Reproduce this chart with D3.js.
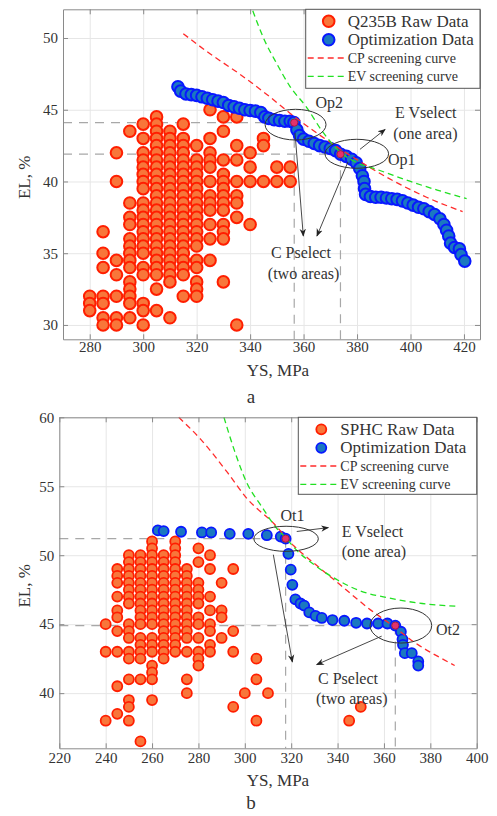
<!DOCTYPE html>
<html>
<head>
<meta charset="utf-8">
<script src="https://cdn.jsdelivr.net/npm/d3@7"></script>
<style>
  body { margin: 0; background: #fff; }
  svg text { font-family: "Liberation Serif", "Tinos", "DejaVu Serif", "Noto Serif", serif; fill: #333; }
</style>
</head>
<body>
<div id="chart"></div>
<script>
// ---------- panel a : Q235B ----------
var q235YS = [280, 285, 290, 295, 300, 305, 310, 315, 320, 325, 330, 335, 340, 345, 350, 355];
var q235EL = [
  [32, 31.5, 31],
  [36.5, 35, 34, 32, 31.5, 30.5, 30],
  [42, 40, 34.5, 33.5, 32, 30.5, 30],
  [43.5, 38.5, 37.5, 37, 36, 35.5, 35, 34.5, 34, 33, 32.5, 32, 31.5, 30.5],
  [44, 43, 42, 41.5, 41, 40.5, 40, 39.5, 38.5, 38, 37.5, 37, 36.5, 36, 35.5, 35, 34, 33.5, 31.5, 31, 30],
  [44.5, 44, 43.5, 43, 42.5, 42, 41.5, 41, 40.5, 40, 39.5, 39, 38.5, 38, 37.5, 37, 36.5, 36, 35.5, 35, 34.5, 34, 33.5, 32.5, 31],
  [43.5, 43, 42.5, 42, 41.5, 41, 40.5, 40, 39.5, 39, 38.5, 38, 37.5, 37, 36.5, 36, 35.5, 35, 34.5, 34, 33.5, 33, 30.5],
  [44, 43, 42.5, 42, 41.5, 41, 40.5, 40, 39.5, 39, 38.5, 38, 37.5, 37, 36.5, 36, 35.5, 35, 34.5, 34, 33.5, 32],
  [42.5, 41.5, 41, 40.5, 40, 39.5, 39, 38.5, 38, 37.5, 37, 36.5, 36, 35.5, 34.5, 34, 33, 32.5, 32],
  [45, 43, 42, 41.5, 41, 40, 39, 38.5, 38, 37, 36, 34.5],
  [44.5, 43.5, 41.5, 40.5, 40, 39.5, 39, 38.5, 38, 37, 36.5, 36, 33],
  [44.5, 42.5, 41.5, 40, 39, 38.5, 37.5, 30],
  [42, 41, 40, 37],
  [43, 42.5, 40],
  [41, 40],
  [41, 40]
];
var q235OptYS = [313, 314, 316, 318, 320, 322, 324, 326, 328, 330, 332, 334, 336, 338, 340, 342, 344, 345.5, 347, 349, 351, 353, 355, 356.4,
  357.5, 358.5, 360, 362, 364, 366, 368, 370, 372, 373.9, 376, 378, 379.7, 381, 382, 382.6, 382.8, 383.2, 385, 387, 389, 391, 393, 395,
  397, 399, 401, 403, 405, 407, 409, 411, 412.5, 413.5, 414.3, 415, 416.5, 418.3, 418.9, 420.3];
var q235OptEL = [46.6, 46.3, 46.1, 46.05, 46.0, 45.9, 45.8, 45.7, 45.6, 45.5, 45.3, 45.2, 45.1, 45.0, 44.95, 44.9, 44.8, 44.5, 44.4, 44.3, 44.25, 44.2, 44.2, 44.1,
  43.6, 43.2, 42.95, 42.8, 42.65, 42.5, 42.4, 42.3, 42.15, 41.9, 41.75, 41.55, 41.3, 40.9, 40.4, 40.0, 39.5, 39.1, 38.95, 38.9, 38.9, 38.85, 38.8, 38.75,
  38.65, 38.5, 38.35, 38.2, 38.1, 37.9, 37.7, 37.4, 37.0, 36.6, 36.2, 35.7, 35.4, 35.3, 34.9, 34.45];
var q235CPYS = [315, 325, 336, 346, 356, 371, 381, 393, 406, 419.5];
var q235CPEL = [50.3, 48.9, 47.5, 46.1, 44.6, 42.6, 41.4, 40.1, 38.9, 37.9];
var q235EVYS = [341, 345, 350, 355, 361, 367, 374, 380, 388, 400, 410, 421];
var q235EVEL = [51.9, 50.0, 48.2, 46.6, 45.2, 43.5, 42.0, 41.3, 40.8, 40.0, 39.4, 38.8];
var q235SelName = ["Op2", "Op1"];
var q235SelYS = [356.5, 373.8];
var q235SelEL = [44.1, 41.9];
var q235XTicks = [280, 300, 320, 340, 360, 380, 400, 420];
var q235YTicks = [30, 35, 40, 45, 50];

// ---------- panel b : SPHC ----------
var sphcYS = [240, 245, 250, 255, 260, 265, 270, 275, 280, 285, 290, 295, 300, 305, 310, 345, 350];
var sphcEL = [
  [45, 43, 38],
  [49, 48.5, 48, 47, 46, 45.5, 44.5, 43, 40.5, 38.5],
  [50, 49.5, 49, 48.5, 48, 47.5, 47, 46.5, 45, 44.5, 44, 43, 42.5, 41, 39.5, 39, 38],
  [50, 49.5, 49, 48.5, 48, 47.5, 47, 46.5, 46, 45.5, 45, 44, 43.5, 43, 42.5, 41, 36.5],
  [51, 50.5, 50, 49.5, 49, 48.5, 48, 47.5, 47, 46.5, 46, 45.5, 45, 44, 43.5, 43, 42, 41.5, 41, 39.5],
  [50, 49.5, 49, 48.5, 48, 47.5, 47, 46.5, 46, 45.5, 45, 44.5, 44, 43.5, 43, 42.5],
  [51, 50.5, 50, 49.5, 49, 48.5, 48, 47.5, 47, 46.5, 46, 45.5, 45, 44.5, 44, 43.5, 43],
  [49, 48.5, 48, 47.5, 47, 46.5, 46, 45.5, 45, 44.5, 44, 43, 41, 40],
  [50.5, 49.5, 48, 47.5, 47, 46.5, 45.5, 45, 44, 43, 42.5, 42],
  [50, 49, 47, 46, 45, 44.5, 43.5, 43],
  [48, 46, 45.5, 44],
  [49, 44.5, 43, 39],
  [40],
  [42.5, 41, 38],
  [40],
  [38],
  [39]
];
var sphcOptYS = [262.5, 265, 272.5, 281.5, 285.5, 293.5, 301.5, 309.5, 315.5, 317.6, 318.8, 319.8, 320.5, 321.8, 324, 325.6, 327.8, 330.5,
  333.2, 337.8, 342.9, 348, 352.7, 357.5, 361.5, 364.9, 367.3, 368, 368.2, 369, 372, 374.8, 374.8];
var sphcOptEL = [51.8, 51.75, 51.7, 51.65, 51.65, 51.55, 51.55, 51.45, 51.35, 51.2, 50.1, 48.95, 47.85, 46.8, 46.5, 46.35, 45.85, 45.6,
  45.45, 45.3, 45.25, 45.1, 45.05, 45.05, 45.05, 44.9, 44.45, 43.9, 43.5, 42.9, 42.9, 42.3, 42.0];
var sphcCPYS = [271.5, 281, 292.5, 301, 312.5, 321, 330, 341.5, 354.5, 364.5, 373, 385, 390.5];
var sphcCPEL = [60, 58.4, 56, 54.1, 52.3, 50.7, 49.4, 47.8, 46, 44.8, 43.7, 42.5, 42];
var sphcEVYS = [291, 295.5, 301, 307, 314, 318, 321, 330, 340, 350, 362, 376.5, 391];
var sphcEVEL = [60, 57.6, 55.2, 53.6, 51.9, 51.2, 50.6, 49.3, 48.2, 47.4, 46.9, 46.5, 46.3];
var sphcSelName = ["Ot1", "Ot2"];
var sphcSelYS = [317.6, 364.9];
var sphcSelEL = [51.2, 44.9];
var sphcXTicks = [220, 240, 260, 280, 300, 320, 340, 360, 380, 400];
var sphcYTicks = [40, 45, 50, 55, 60];

var SERIF = '"Liberation Serif", "Tinos", "DejaVu Serif", "Noto Serif", serif';
var W = 497, H = 816;
var svg = d3.select('#chart').append('svg')
  .attr('width', W)
  .attr('height', H)
  .attr('font-family', SERIF);

var defs = svg.append('defs');
defs.append('marker')
  .attr('id', 'arr')
  .attr('viewBox', '0 0 10 10')
  .attr('refX', 9).attr('refY', 5)
  .attr('markerWidth', 8).attr('markerHeight', 8)
  .attr('markerUnits', 'userSpaceOnUse')
  .attr('orient', 'auto')
  .append('path')
  .attr('d', 'M0,1 L10,5 L0,9 L3,5 z')
  .attr('fill', '#222');

function drawPanel(p) {
  var x = d3.scaleLinear().domain(p.xDomain).range([0, p.w]);
  var y = d3.scaleLinear().domain(p.yDomain).range([p.h, 0]);

  var g = svg.append('g').attr('transform', 'translate(' + p.left + ',' + p.top + ')');

  // grid
  g.append('g').attr('transform', 'translate(0,' + p.h + ')')
    .call(d3.axisBottom(x).tickValues(p.xTicks).tickSize(-p.h).tickFormat(''))
    .call(function (s) { s.select('.domain').remove(); s.selectAll('line').attr('stroke', '#e6e6e6'); });
  g.append('g')
    .call(d3.axisLeft(y).tickValues(p.yTicks).tickSize(-p.w).tickFormat(''))
    .call(function (s) { s.select('.domain').remove(); s.selectAll('line').attr('stroke', '#e6e6e6'); });

  // guide lines from selected points
  p.selYS.forEach(function (v, i) {
    g.append('line')
      .attr('x1', 0).attr('x2', x(v))
      .attr('y1', y(p.selEL[i])).attr('y2', y(p.selEL[i]))
      .attr('stroke', '#a8a8a8').attr('stroke-width', 1.2).attr('stroke-dasharray', '9,7');
    g.append('line')
      .attr('x1', x(v)).attr('x2', x(v))
      .attr('y1', y(p.selEL[i])).attr('y2', p.h)
      .attr('stroke', '#a8a8a8').attr('stroke-width', 1.2).attr('stroke-dasharray', '9,7');
  });

  // raw data
  var raw = [];
  p.rawYS.forEach(function (v, i) {
    p.rawEL[i].forEach(function (e) { raw.push([v, e]); });
  });
  g.selectAll('.raw').data(raw).enter().append('circle')
    .attr('class', 'raw')
    .attr('cx', function (d) { return x(d[0]); })
    .attr('cy', function (d) { return y(d[1]); })
    .attr('r', p.r)
    .attr('fill', '#f8763a')
    .attr('stroke', '#ff1e00')
    .attr('stroke-width', p.sw);

  // optimization data
  var opt = p.optYS.map(function (v, i) { return [v, p.optEL[i]]; });
  g.selectAll('.opt').data(opt).enter().append('circle')
    .attr('class', 'opt')
    .attr('cx', function (d) { return x(d[0]); })
    .attr('cy', function (d) { return y(d[1]); })
    .attr('r', p.r)
    .attr('fill', '#1b78c0')
    .attr('stroke', '#0818ff')
    .attr('stroke-width', p.sw);

  // screening curves
  var line = d3.line()
    .x(function (d) { return x(d[0]); })
    .y(function (d) { return y(d[1]); })
    .curve(d3.curveMonotoneX);
  g.append('path')
    .datum(p.cpYS.map(function (v, i) { return [v, p.cpEL[i]]; }))
    .attr('d', line).attr('fill', 'none')
    .attr('stroke', '#ff2b2b').attr('stroke-width', 1.3).attr('stroke-dasharray', '6,4');
  g.append('path')
    .datum(p.evYS.map(function (v, i) { return [v, p.evEL[i]]; }))
    .attr('d', line).attr('fill', 'none')
    .attr('stroke', '#22e022').attr('stroke-width', 1.3).attr('stroke-dasharray', '6,4');

  // selected points
  p.selYS.forEach(function (v, i) {
    g.append('circle')
      .attr('cx', x(v)).attr('cy', y(p.selEL[i]))
      .attr('r', 3.6)
      .attr('fill', '#e2336c').attr('stroke', '#a0103a').attr('stroke-width', 0.8);
  });

  // annotations
  p.ellipses.forEach(function (e) {
    g.append('ellipse')
      .attr('cx', x(e[0])).attr('cy', y(e[1]))
      .attr('rx', x(e[0] + e[2]) - x(e[0]))
      .attr('ry', y(e[1] - e[3]) - y(e[1]))
      .attr('fill', 'none').attr('stroke', '#333').attr('stroke-width', 1);
  });
  p.arrows.forEach(function (a) {
    g.append('line')
      .attr('x1', x(a[0])).attr('y1', y(a[1]))
      .attr('x2', x(a[2])).attr('y2', y(a[3]))
      .attr('stroke', '#333').attr('stroke-width', 0.9)
      .attr('marker-end', 'url(#arr)');
  });
  p.labels.forEach(function (l) {
    g.append('text')
      .attr('x', x(l[1])).attr('y', y(l[2]))
      .attr('text-anchor', l[3])
      .style('font-size', '16px')
      .text(l[0]);
  });

  // frame with inward ticks
  var axStyle = function (s) {
    s.attr('font-family', SERIF);
    s.select('.domain').attr('stroke', '#8a8a8a');
    s.selectAll('.tick line').attr('stroke', '#8a8a8a');
    s.selectAll('text').style('font-size', '15px').attr('fill', '#333');
  };
  g.append('g').attr('transform', 'translate(0,' + p.h + ')')
    .call(d3.axisBottom(x).tickValues(p.xTicks).tickSize(-5).tickSizeOuter(0).tickPadding(p.xPad))
    .call(axStyle);
  g.append('g')
    .call(d3.axisTop(x).tickValues(p.xTicks).tickSize(-5).tickSizeOuter(0).tickFormat(''))
    .call(axStyle);
  g.append('g')
    .call(d3.axisLeft(y).tickValues(p.yTicks).tickSize(-5).tickSizeOuter(0).tickPadding(5))
    .call(axStyle);
  g.append('g').attr('transform', 'translate(' + p.w + ',0)')
    .call(d3.axisRight(y).tickValues(p.yTicks).tickSize(-5).tickSizeOuter(0).tickFormat(''))
    .call(axStyle);

  // axis titles
  g.append('text')
    .attr('x', 278 - p.left).attr('y', p.h + p.xTitleDy)
    .attr('text-anchor', 'middle')
    .style('font-size', '17px')
    .text('YS, MPa');
  g.append('text')
    .attr('transform', 'translate(' + (-p.left + 30) + ',' + (p.h / 2 + 3) + ') rotate(-90)')
    .attr('text-anchor', 'middle')
    .style('font-size', '17px')
    .text('EL, %');
  g.append('text')
    .attr('x', 251 - p.left).attr('y', p.h + p.capDy)
    .attr('text-anchor', 'middle')
    .style('font-size', '19px')
    .text(p.caption);

  // legend
  var lg = g.append('g').attr('transform', 'translate(' + (p.w - p.legW) + ',0)');
  lg.append('rect')
    .attr('width', p.legW).attr('height', p.legH)
    .attr('fill', '#fff').attr('stroke', '#555').attr('stroke-width', 1);
  var rowY = [12, 30.5, 48.7, 67];
  var mx = 23;
  lg.append('circle').attr('cx', mx).attr('cy', rowY[0]).attr('r', p.r)
    .attr('fill', '#f8763a').attr('stroke', '#ff1e00').attr('stroke-width', p.sw);
  lg.append('circle').attr('cx', mx).attr('cy', rowY[1]).attr('r', p.r)
    .attr('fill', '#1b78c0').attr('stroke', '#0818ff').attr('stroke-width', p.sw);
  lg.append('line').attr('x1', 2).attr('x2', 38).attr('y1', rowY[2]).attr('y2', rowY[2])
    .attr('stroke', '#ff2b2b').attr('stroke-width', 1.3).attr('stroke-dasharray', '6,4');
  lg.append('line').attr('x1', 2).attr('x2', 38).attr('y1', rowY[3]).attr('y2', rowY[3])
    .attr('stroke', '#22e022').attr('stroke-width', 1.3).attr('stroke-dasharray', '6,4');
  var names = [p.rawName, 'Optimization Data', 'CP screening curve', 'EV screening curve'];
  names.forEach(function (n, i) {
    lg.append('text')
      .attr('x', 42).attr('y', rowY[i])
      .attr('dy', '0.33em')
      .style('font-size', i < 2 ? '17px' : '14px')
      .text(n);
  });
}

drawPanel({
  left: 63, top: 9.3, w: 417, h: 330,
  xDomain: [270, 426], yDomain: [29, 52],
  xTicks: q235XTicks, yTicks: q235YTicks,
  rawYS: q235YS, rawEL: q235EL,
  optYS: q235OptYS, optEL: q235OptEL,
  cpYS: q235CPYS, cpEL: q235CPEL,
  evYS: q235EVYS, evEL: q235EVEL,
  selYS: q235SelYS, selEL: q235SelEL,
  r: 5.8, sw: 2,
  ellipses: [[357.0, 43.96, 11.4, 1.07], [379.9, 41.93, 11.9, 1.01]],
  arrows: [[381.1, 42.24, 390.5, 43.63], [356.8, 43.38, 359.9, 36.2], [376.6, 41.36, 365.0, 36.2]],
  labels: [[q235SelName[0], 369.6, 45.12, 'middle'], [q235SelName[1], 391.6, 41.12, 'start'],
    ['E Vselect', 394.2, 44.43, 'start'], ['(one area)', 393.5, 42.96, 'start'],
    ['C Pselect', 359.0, 34.67, 'middle'], ['(two areas)', 360.0, 33.21, 'middle']],
  xPad: 2, xTitleDy: 37, capDy: 64,
  caption: 'a',
  rawName: 'Q235B Raw Data',
  legW: 174.3, legH: 79
});

drawPanel({
  left: 59.3, top: 417.3, w: 417.4, h: 331,
  xDomain: [220, 400], yDomain: [36, 60],
  xTicks: sphcXTicks, yTicks: sphcYTicks,
  rawYS: sphcYS, rawEL: sphcEL,
  optYS: sphcOptYS, optEL: sphcOptEL,
  cpYS: sphcCPYS, cpEL: sphcCPEL,
  evYS: sphcEVYS, evEL: sphcEVEL,
  selYS: sphcSelYS, selEL: sphcSelEL,
  r: 5, sw: 1.8,
  ellipses: [[317.8, 51.19, 13.9, 0.91], [367.3, 44.9, 13.3, 1.27]],
  arrows: [[322.4, 51.72, 336.0, 52.0], [312.3, 50.04, 320.5, 42.26], [359.0, 44.13, 331.0, 42.07]],
  labels: [[sphcSelName[0], 320.6, 52.48, 'middle'], [sphcSelName[1], 382.4, 44.22, 'start'],
    ['E Vselect', 341.8, 51.33, 'start'], ['(one area)', 341.8, 49.88, 'start'],
    ['C Pselect', 344.5, 40.66, 'middle'], ['(two areas)', 346.1, 39.21, 'middle']],
  xPad: 4, xTitleDy: 38, capDy: 61,
  caption: 'b',
  rawName: 'SPHC Raw Data',
  legW: 178.4, legH: 77
});
</script>
</body>
</html>
